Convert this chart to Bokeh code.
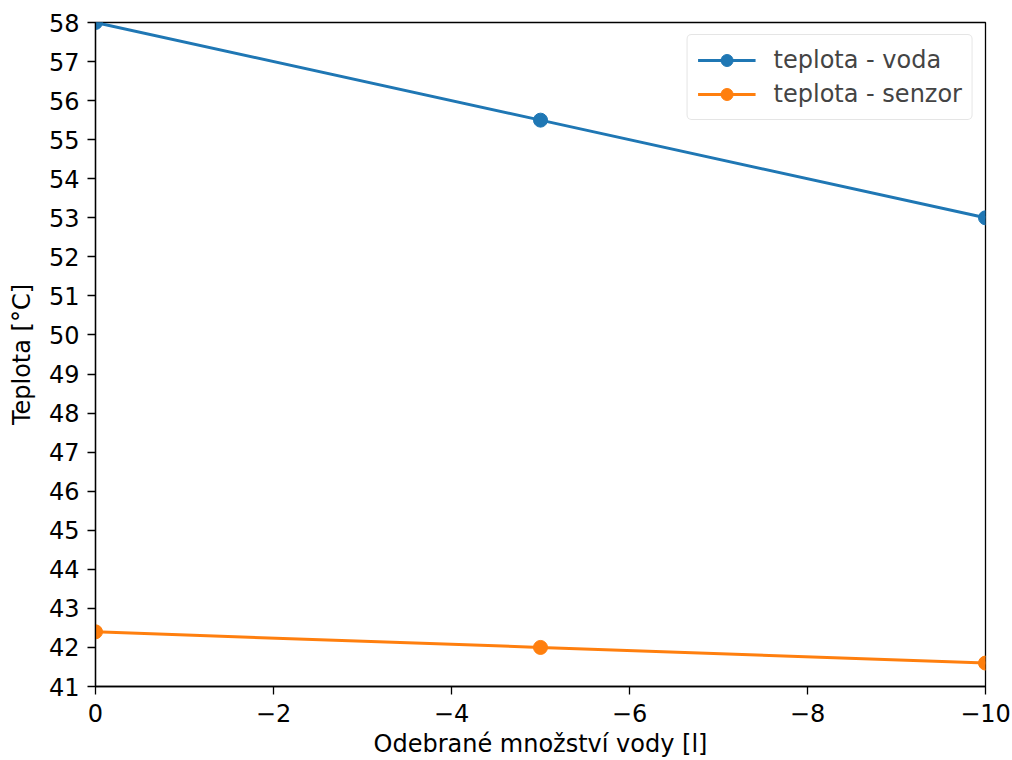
from bokeh.plotting import figure
from bokeh.models import Range1d, FixedTicker, CustomJSTickFormatter
from bokeh.embed import file_html
from bokeh.resources import INLINE

x_vals = [0, -5, -10]
voda = [58.0, 55.5, 53.0]
senzor = [42.4, 42.0, 41.6]
x_ticks = [0, -2, -4, -6, -8, -10]
y_ticks = list(range(41, 59))

FONT = "DejaVu Sans"
p = figure(width=1012, height=760, output_backend="svg", toolbar_location=None,
           x_range=Range1d(0, -10), y_range=Range1d(41, 58),
           min_border_left=95, min_border_right=27, min_border_top=22, min_border_bottom=74)
p.outline_line_color = "black"
p.outline_line_width = 1.3
p.xgrid.visible = False
p.ygrid.visible = False
p.background_fill_color = "white"
p.border_fill_color = "white"

blue = "#1f77b4"
orange = "#ff7f0e"
p.line(x_vals, voda, color=blue, line_width=3, legend_label="teplota - voda")
p.scatter(x_vals, voda, size=14, fill_color=blue, line_color=blue, legend_label="teplota - voda")
p.line(x_vals, senzor, color=orange, line_width=3, legend_label="teplota - senzor")
p.scatter(x_vals, senzor, size=14, fill_color=orange, line_color=orange, legend_label="teplota - senzor")

fmt = CustomJSTickFormatter(code="return tick < 0 ? '\u2212' + Math.abs(tick) : String(tick);")
p.xaxis.ticker = FixedTicker(ticks=x_ticks)
p.yaxis.ticker = FixedTicker(ticks=y_ticks)
p.xaxis.formatter = fmt
for ax in (p.xaxis, p.yaxis):
    ax.major_tick_out = 8
    ax.major_tick_in = 0
    ax.minor_tick_out = 0
    ax.minor_tick_in = 0
    ax.major_tick_line_color = "black"
    ax.major_tick_line_width = 1.3
    ax.axis_line_color = "black"
    ax.axis_line_width = 1.3
    ax.major_label_text_font = FONT
    ax.major_label_text_font_size = "24px"
    ax.major_label_text_color = "black"
    ax.axis_label_text_font = FONT
    ax.axis_label_text_font_size = "24px"
    ax.axis_label_text_font_style = "normal"
    ax.axis_label_text_color = "black"
p.xaxis.axis_label = "Odebrané množství vody [l]"
p.yaxis.axis_label = "Teplota [°C]"
p.xaxis.major_label_standoff = 9
p.yaxis.major_label_standoff = 8
p.xaxis.axis_label_standoff = 5
p.yaxis.axis_label_standoff = 10

lg = p.legend[0]
lg.location = "top_right"
lg.label_text_font = FONT
lg.label_text_font_size = "24px"
lg.border_line_color = "#cccccc"
lg.border_line_width = 1.5
lg.border_radius = 5
lg.margin = 12
lg.padding = 10
lg.spacing = 4
lg.glyph_width = 58
lg.glyph_height = 30
lg.label_height = 28
lg.label_standoff = 18

open("out.html", "w").write(file_html(p, INLINE))
